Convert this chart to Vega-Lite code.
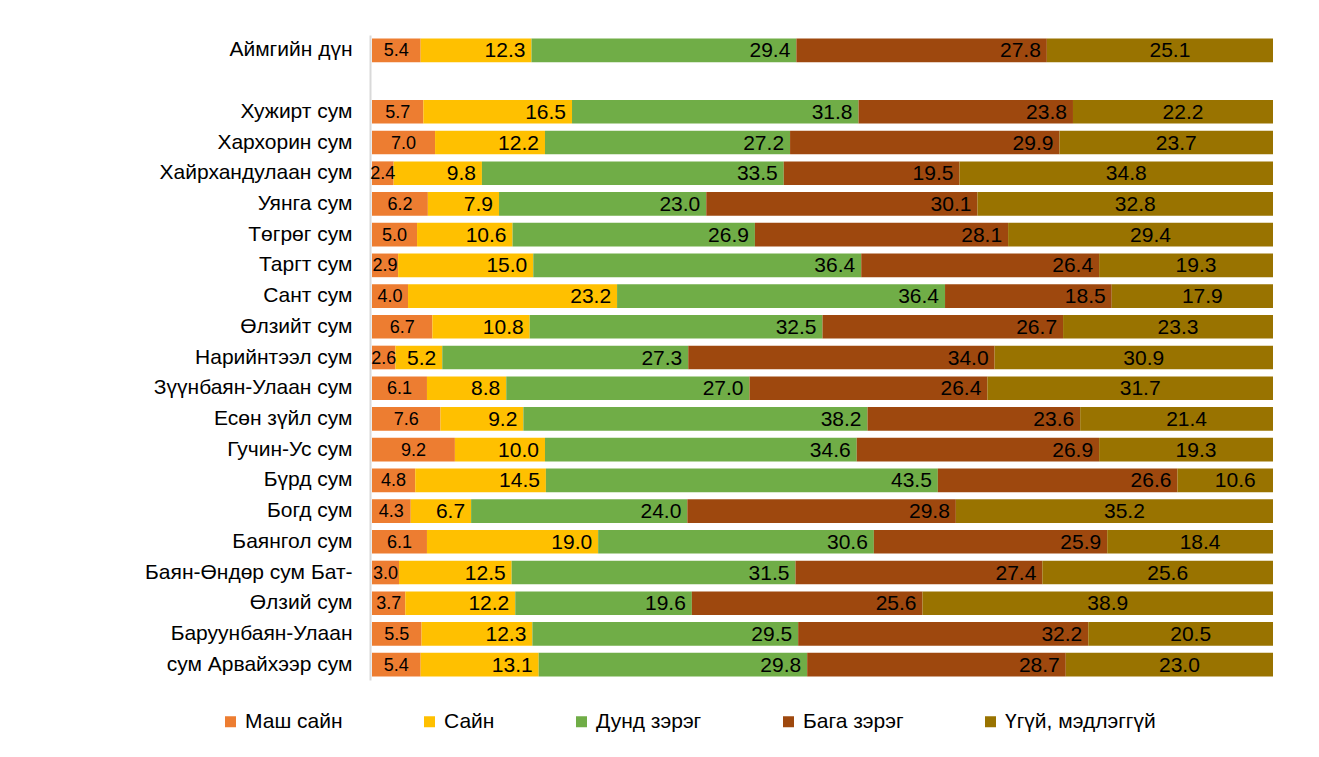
{
  "$schema": "https://vega.github.io/schema/vega-lite/v6.json",
  "width": 901,
  "height": 645,
  "autosize": {"type": "none"},
  "padding": {"left": 372, "top": 35, "right": 46, "bottom": 77},
  "background": "white",
  "config": {
    "font": "Liberation Sans",
    "view": {"stroke": null},
    "text": {"font": "Liberation Sans", "color": "#000000"}
  },
  "data": {
    "values": [
      {"c":"Аймгийн дүн","s":"Маш сайн","n":1,"v":5.4},{"c":"Аймгийн дүн","s":"Сайн","n":2,"v":12.3},{"c":"Аймгийн дүн","s":"Дунд зэрэг","n":3,"v":29.4},{"c":"Аймгийн дүн","s":"Бага зэрэг","n":4,"v":27.8},{"c":"Аймгийн дүн","s":"Үгүй, мэдлэггүй","n":5,"v":25.1},
      {"c":"Хужирт сум","s":"Маш сайн","n":1,"v":5.7},{"c":"Хужирт сум","s":"Сайн","n":2,"v":16.5},{"c":"Хужирт сум","s":"Дунд зэрэг","n":3,"v":31.8},{"c":"Хужирт сум","s":"Бага зэрэг","n":4,"v":23.8},{"c":"Хужирт сум","s":"Үгүй, мэдлэггүй","n":5,"v":22.2},
      {"c":"Хархорин сум","s":"Маш сайн","n":1,"v":7.0},{"c":"Хархорин сум","s":"Сайн","n":2,"v":12.2},{"c":"Хархорин сум","s":"Дунд зэрэг","n":3,"v":27.2},{"c":"Хархорин сум","s":"Бага зэрэг","n":4,"v":29.9},{"c":"Хархорин сум","s":"Үгүй, мэдлэггүй","n":5,"v":23.7},
      {"c":"Хайрхандулаан сум","s":"Маш сайн","n":1,"v":2.4},{"c":"Хайрхандулаан сум","s":"Сайн","n":2,"v":9.8},{"c":"Хайрхандулаан сум","s":"Дунд зэрэг","n":3,"v":33.5},{"c":"Хайрхандулаан сум","s":"Бага зэрэг","n":4,"v":19.5},{"c":"Хайрхандулаан сум","s":"Үгүй, мэдлэггүй","n":5,"v":34.8},
      {"c":"Уянга сум","s":"Маш сайн","n":1,"v":6.2},{"c":"Уянга сум","s":"Сайн","n":2,"v":7.9},{"c":"Уянга сум","s":"Дунд зэрэг","n":3,"v":23.0},{"c":"Уянга сум","s":"Бага зэрэг","n":4,"v":30.1},{"c":"Уянга сум","s":"Үгүй, мэдлэггүй","n":5,"v":32.8},
      {"c":"Төгрөг сум","s":"Маш сайн","n":1,"v":5.0},{"c":"Төгрөг сум","s":"Сайн","n":2,"v":10.6},{"c":"Төгрөг сум","s":"Дунд зэрэг","n":3,"v":26.9},{"c":"Төгрөг сум","s":"Бага зэрэг","n":4,"v":28.1},{"c":"Төгрөг сум","s":"Үгүй, мэдлэггүй","n":5,"v":29.4},
      {"c":"Таргт сум","s":"Маш сайн","n":1,"v":2.9},{"c":"Таргт сум","s":"Сайн","n":2,"v":15.0},{"c":"Таргт сум","s":"Дунд зэрэг","n":3,"v":36.4},{"c":"Таргт сум","s":"Бага зэрэг","n":4,"v":26.4},{"c":"Таргт сум","s":"Үгүй, мэдлэггүй","n":5,"v":19.3},
      {"c":"Сант сум","s":"Маш сайн","n":1,"v":4.0},{"c":"Сант сум","s":"Сайн","n":2,"v":23.2},{"c":"Сант сум","s":"Дунд зэрэг","n":3,"v":36.4},{"c":"Сант сум","s":"Бага зэрэг","n":4,"v":18.5},{"c":"Сант сум","s":"Үгүй, мэдлэггүй","n":5,"v":17.9},
      {"c":"Өлзийт сум","s":"Маш сайн","n":1,"v":6.7},{"c":"Өлзийт сум","s":"Сайн","n":2,"v":10.8},{"c":"Өлзийт сум","s":"Дунд зэрэг","n":3,"v":32.5},{"c":"Өлзийт сум","s":"Бага зэрэг","n":4,"v":26.7},{"c":"Өлзийт сум","s":"Үгүй, мэдлэггүй","n":5,"v":23.3},
      {"c":"Нарийнтээл сум","s":"Маш сайн","n":1,"v":2.6},{"c":"Нарийнтээл сум","s":"Сайн","n":2,"v":5.2},{"c":"Нарийнтээл сум","s":"Дунд зэрэг","n":3,"v":27.3},{"c":"Нарийнтээл сум","s":"Бага зэрэг","n":4,"v":34.0},{"c":"Нарийнтээл сум","s":"Үгүй, мэдлэггүй","n":5,"v":30.9},
      {"c":"Зүүнбаян-Улаан сум","s":"Маш сайн","n":1,"v":6.1},{"c":"Зүүнбаян-Улаан сум","s":"Сайн","n":2,"v":8.8},{"c":"Зүүнбаян-Улаан сум","s":"Дунд зэрэг","n":3,"v":27.0},{"c":"Зүүнбаян-Улаан сум","s":"Бага зэрэг","n":4,"v":26.4},{"c":"Зүүнбаян-Улаан сум","s":"Үгүй, мэдлэггүй","n":5,"v":31.7},
      {"c":"Есөн зүйл сум","s":"Маш сайн","n":1,"v":7.6},{"c":"Есөн зүйл сум","s":"Сайн","n":2,"v":9.2},{"c":"Есөн зүйл сум","s":"Дунд зэрэг","n":3,"v":38.2},{"c":"Есөн зүйл сум","s":"Бага зэрэг","n":4,"v":23.6},{"c":"Есөн зүйл сум","s":"Үгүй, мэдлэггүй","n":5,"v":21.4},
      {"c":"Гучин-Ус сум","s":"Маш сайн","n":1,"v":9.2},{"c":"Гучин-Ус сум","s":"Сайн","n":2,"v":10.0},{"c":"Гучин-Ус сум","s":"Дунд зэрэг","n":3,"v":34.6},{"c":"Гучин-Ус сум","s":"Бага зэрэг","n":4,"v":26.9},{"c":"Гучин-Ус сум","s":"Үгүй, мэдлэггүй","n":5,"v":19.3},
      {"c":"Бүрд сум","s":"Маш сайн","n":1,"v":4.8},{"c":"Бүрд сум","s":"Сайн","n":2,"v":14.5},{"c":"Бүрд сум","s":"Дунд зэрэг","n":3,"v":43.5},{"c":"Бүрд сум","s":"Бага зэрэг","n":4,"v":26.6},{"c":"Бүрд сум","s":"Үгүй, мэдлэггүй","n":5,"v":10.6},
      {"c":"Богд сум","s":"Маш сайн","n":1,"v":4.3},{"c":"Богд сум","s":"Сайн","n":2,"v":6.7},{"c":"Богд сум","s":"Дунд зэрэг","n":3,"v":24.0},{"c":"Богд сум","s":"Бага зэрэг","n":4,"v":29.8},{"c":"Богд сум","s":"Үгүй, мэдлэггүй","n":5,"v":35.2},
      {"c":"Баянгол сум","s":"Маш сайн","n":1,"v":6.1},{"c":"Баянгол сум","s":"Сайн","n":2,"v":19.0},{"c":"Баянгол сум","s":"Дунд зэрэг","n":3,"v":30.6},{"c":"Баянгол сум","s":"Бага зэрэг","n":4,"v":25.9},{"c":"Баянгол сум","s":"Үгүй, мэдлэггүй","n":5,"v":18.4},
      {"c":"Баян-Өндөр сум Бат-","s":"Маш сайн","n":1,"v":3.0},{"c":"Баян-Өндөр сум Бат-","s":"Сайн","n":2,"v":12.5},{"c":"Баян-Өндөр сум Бат-","s":"Дунд зэрэг","n":3,"v":31.5},{"c":"Баян-Өндөр сум Бат-","s":"Бага зэрэг","n":4,"v":27.4},{"c":"Баян-Өндөр сум Бат-","s":"Үгүй, мэдлэггүй","n":5,"v":25.6},
      {"c":"Өлзий сум","s":"Маш сайн","n":1,"v":3.7},{"c":"Өлзий сум","s":"Сайн","n":2,"v":12.2},{"c":"Өлзий сум","s":"Дунд зэрэг","n":3,"v":19.6},{"c":"Өлзий сум","s":"Бага зэрэг","n":4,"v":25.6},{"c":"Өлзий сум","s":"Үгүй, мэдлэггүй","n":5,"v":38.9},
      {"c":"Баруунбаян-Улаан","s":"Маш сайн","n":1,"v":5.5},{"c":"Баруунбаян-Улаан","s":"Сайн","n":2,"v":12.3},{"c":"Баруунбаян-Улаан","s":"Дунд зэрэг","n":3,"v":29.5},{"c":"Баруунбаян-Улаан","s":"Бага зэрэг","n":4,"v":32.2},{"c":"Баруунбаян-Улаан","s":"Үгүй, мэдлэггүй","n":5,"v":20.5},
      {"c":"сум Арвайхээр сум","s":"Маш сайн","n":1,"v":5.4},{"c":"сум Арвайхээр сум","s":"Сайн","n":2,"v":13.1},{"c":"сум Арвайхээр сум","s":"Дунд зэрэг","n":3,"v":29.8},{"c":"сум Арвайхээр сум","s":"Бага зэрэг","n":4,"v":28.7},{"c":"сум Арвайхээр сум","s":"Үгүй, мэдлэггүй","n":5,"v":23.0}
    ]
  },
  "encoding": {
    "y": {
      "field": "c",
      "type": "nominal",
      "title": null,
      "scale": {
        "domain": ["Аймгийн дүн", " ", "Хужирт сум", "Хархорин сум", "Хайрхандулаан сум", "Уянга сум", "Төгрөг сум", "Таргт сум", "Сант сум", "Өлзийт сум", "Нарийнтээл сум", "Зүүнбаян-Улаан сум", "Есөн зүйл сум", "Гучин-Ус сум", "Бүрд сум", "Богд сум", "Баянгол сум", "Баян-Өндөр сум Бат-", "Өлзий сум", "Баруунбаян-Улаан", "сум Арвайхээр сум"],
        "paddingInner": 0.23,
        "paddingOuter": 0.115
      },
      "axis": {
        "domain": true,
        "domainColor": "#d9d9d9",
        "domainWidth": 2,
        "offset": 2,
        "ticks": false,
        "grid": false,
        "labelFontSize": 21,
        "labelColor": "#000000",
        "labelPadding": 18,
        "labelLimit": 400
      }
    },
    "order": {"field": "n", "type": "quantitative"}
  },
  "layer": [
    {
      "mark": {"type": "bar"},
      "encoding": {
        "x": {"field": "v", "type": "quantitative", "stack": "normalize", "scale": {"domain": [0, 1]}, "axis": null},
        "color": {
          "field": "s",
          "type": "nominal",
          "scale": {
            "domain": ["Маш сайн", "Сайн", "Дунд зэрэг", "Бага зэрэг", "Үгүй, мэдлэггүй"],
            "range": ["#ED7D31", "#FFC000", "#70AD47", "#9E480E", "#997300"]
          },
          "legend": {
            "title": null,
            "orient": "none",
            "direction": "horizontal",
            "legendX": -152,
            "legendY": 676,
            "padding": 0,
            "symbolType": "square",
            "symbolSize": 121,
            "symbolStrokeWidth": 0,
            "labelFontSize": 21,
            "labelColor": "#000000",
            "labelOffset": 4,
            "columnPadding": 76,
            "labelLimit": 300
          }
        }
      }
    },
    {
      "mark": {"type": "text", "fontSize": 18, "align": "center", "baseline": "middle", "dy": 1},
      "encoding": {
        "x": {"field": "v", "type": "quantitative", "stack": "normalize", "bandPosition": 0.5},
        "text": {"field": "v", "type": "quantitative", "format": ".1f"},
        "opacity": {"condition": {"test": "datum.n == 1", "value": 1}, "value": 0}
      }
    },
    {
      "mark": {"type": "text", "fontSize": 21, "align": "right", "baseline": "middle", "dx": -6, "dy": 1},
      "encoding": {
        "x": {"field": "v", "type": "quantitative", "stack": "normalize"},
        "text": {"field": "v", "type": "quantitative", "format": ".1f"},
        "opacity": {"condition": {"test": "datum.n >= 2 && datum.n <= 4", "value": 1}, "value": 0}
      }
    },
    {
      "mark": {"type": "text", "fontSize": 21, "align": "center", "baseline": "middle", "dx": 10, "dy": 1},
      "encoding": {
        "x": {"field": "v", "type": "quantitative", "stack": "normalize", "bandPosition": 0.5},
        "text": {"field": "v", "type": "quantitative", "format": ".1f"},
        "opacity": {"condition": {"test": "datum.n == 5", "value": 1}, "value": 0}
      }
    }
  ]
}
